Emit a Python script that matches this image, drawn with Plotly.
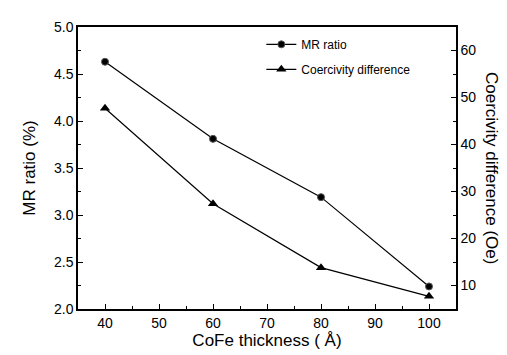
import plotly.graph_objects as go

thickness = [40, 60, 80, 100]
mr_ratio = [4.63, 3.81, 3.19, 2.24]
coercivity_diff = [47.7, 27.4, 13.8, 7.7]

x_ticks = [40, 50, 60, 70, 80, 90, 100]
y1_ticks = [2.0, 2.5, 3.0, 3.5, 4.0, 4.5, 5.0]
y2_ticks = [10, 20, 30, 40, 50, 60]

fig = go.Figure()
fig.add_trace(go.Scatter(
    x=thickness, y=mr_ratio, name="MR ratio", mode="lines+markers",
    legendgroup="a",
    line=dict(color="black", width=1.2),
    marker=dict(symbol="circle", size=7, color="black",
                line=dict(color="#555", width=1)),
    yaxis="y"))
fig.add_trace(go.Scatter(
    x=thickness, y=coercivity_diff, name="Coercivity difference", mode="lines+markers",
    legendgroup="b",
    line=dict(color="black", width=1.2),
    marker=dict(symbol="triangle-up", size=9, color="black"),
    yaxis="y2"))

font = "Liberation Sans, Arial, sans-serif"
common = dict(showgrid=False, zeroline=False, showline=True, linecolor="black",
              linewidth=1.5, ticks="inside", ticklen=5, tickcolor="black",
              tickfont=dict(family=font, size=14, color="black"))

fig.update_layout(
    width=507, height=355,
    margin=dict(l=70, r=59, t=19, b=54),
    paper_bgcolor="white", plot_bgcolor="white",
    showlegend=True,
    legend=dict(x=0.485, y=0.99, xanchor="left", yanchor="top",
                font=dict(family=font, size=12, color="black"),
                bgcolor="rgba(0,0,0,0)", tracegroupgap=6, itemwidth=30),
    xaxis=dict(range=[35, 105], tickvals=x_ticks, mirror=True,
               title=dict(text="CoFe thickness ( Å)", font=dict(family=font, size=17, color="black"), standoff=4),
               minor=dict(dtick=5, ticks="inside", ticklen=3, tickcolor="black"),
               **common),
    yaxis=dict(range=[2.0, 5.0], tickvals=y1_ticks, tickformat=".1f",
               title=dict(text="MR ratio (%)", font=dict(family=font, size=17, color="black"), standoff=14),
               minor=dict(dtick=0.25, ticks="inside", ticklen=3, tickcolor="black"),
               **common),
    yaxis2=dict(range=[5, 65], tickvals=y2_ticks, overlaying="y", side="right",
                minor=dict(dtick=5, ticks="inside", ticklen=3, tickcolor="black"),
                **common),
    annotations=[dict(text="Coercivity difference (Oe)", xref="paper", yref="paper",
                      x=1.0, xshift=36, y=0.5, xanchor="center", yanchor="middle",
                      textangle=90, showarrow=False,
                      font=dict(family=font, size=17, color="black"))],
)

fig.write_html("out.html")
